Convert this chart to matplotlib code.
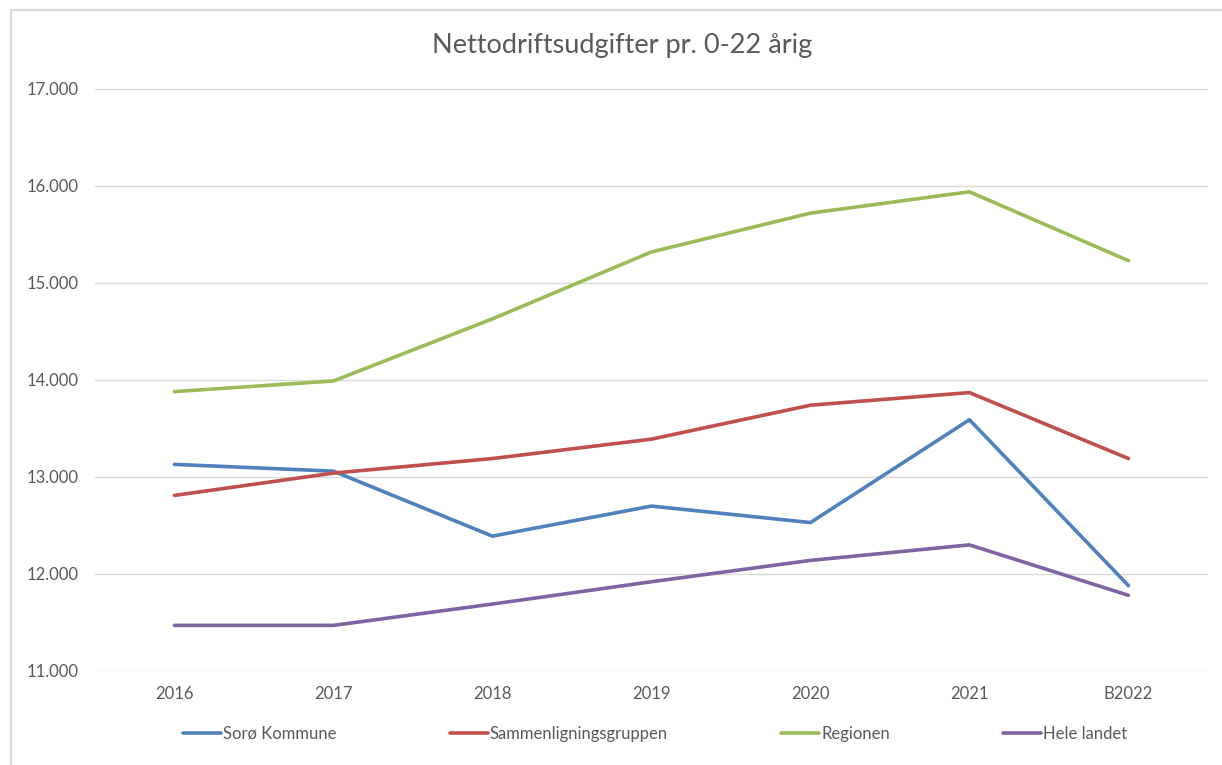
import matplotlib.pyplot as plt
from matplotlib.ticker import FuncFormatter, MultipleLocator
from matplotlib.patches import Rectangle

plt.rcParams['font.family'] = ['Lato', 'DejaVu Sans']

aar = ["2016", "2017", "2018", "2019", "2020", "2021", "B2022"]
soroe = [13130, 13060, 12390, 12700, 12530, 13590, 11880]
sammenligning = [12810, 13040, 13190, 13390, 13740, 13870, 13190]
regionen = [13880, 13990, 14630, 15320, 15720, 15940, 15230]
hele_landet = [11470, 11470, 11690, 11920, 12140, 12300, 11780]

serier = [
    ("Sorø Kommune", soroe, "#4F81BD"),
    ("Sammenligningsgruppen", sammenligning, "#C0504D"),
    ("Regionen", regionen, "#9BBB59"),
    ("Hele landet", hele_landet, "#8064A2"),
]

fig = plt.figure(figsize=(12.22, 7.65), dpi=100)
ax = fig.add_axes([0.0777, 0.1229, 0.9108, 0.7608])

# ramme rundt om diagrammet
fig.patches.append(Rectangle((11 / 1222, -0.05), 1.2, 1 - 10 / 765 + 0.05,
                             transform=fig.transFigure, fill=False,
                             edgecolor="#D9D9D9", linewidth=1.5))

x = range(len(aar))
for navn, vaerdier, farve in serier:
    ax.plot(x, vaerdier, color=farve, linewidth=2.6, label=navn,
            solid_capstyle="round")

ax.set_xlim(-0.5, len(aar) - 0.5)
ax.set_ylim(11000, 17000)
ax.yaxis.set_major_locator(MultipleLocator(1000))
ax.yaxis.set_major_formatter(FuncFormatter(lambda v, p: f"{v:,.0f}".replace(",", ".")))
ax.set_xticks(list(x))
ax.set_xticklabels(aar)
ax.grid(axis="y", color="#D9D9D9", linewidth=1)
ax.set_axisbelow(True)
for s in ax.spines.values():
    s.set_visible(False)
ax.tick_params(length=0, labelsize=12, labelcolor="#595959")
ax.tick_params(axis="y", pad=12)
ax.tick_params(axis="x", pad=11)

fig.text(0.509, 0.941, "Nettodriftsudgifter pr. 0-22 årig", ha="center", va="center",
         fontsize=19.5, color="#595959")

fig.legend(loc="center", bbox_to_anchor=(0.536, 0.041), ncol=4, frameon=False,
           fontsize=12, handlelength=2.3, handletextpad=0.1, columnspacing=6.8,
           labelcolor="#595959")

fig.savefig("out.png", dpi=100)
